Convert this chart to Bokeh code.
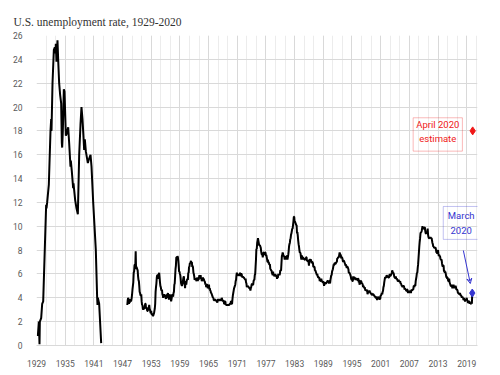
from bokeh.plotting import figure
from bokeh.models import FixedTicker, BoxAnnotation, Label, Arrow, VeeHead
from bokeh.embed import file_html
from bokeh.resources import INLINE

# ---- data ----
early_years = [1929.28, 1929.49, 1929.63, 1929.70, 1929.98, 1930.19, 1930.40, 1931.02, 1931.09,
               1931.23, 1931.58, 1931.93, 1932.07, 1932.14, 1932.35, 1932.63, 1932.83, 1932.97,
               1933.04, 1933.18, 1933.39, 1933.53, 1933.74, 1933.95, 1934.16, 1934.30, 1934.37,
               1934.51, 1934.72, 1934.86, 1935.14, 1935.35, 1935.63, 1935.83, 1936.11, 1936.18,
               1936.39, 1936.67, 1936.74, 1937.09, 1937.37, 1937.65, 1937.93, 1938.20, 1938.41,
               1938.62, 1938.83, 1938.97, 1939.11, 1939.32, 1939.74, 1939.95, 1940.30, 1940.51,
               1940.86, 1941.41, 1941.69, 1941.76, 1941.83, 1942.11, 1942.53]
early_rate = [0.8, 2.0, 0.1, 2.0, 2.3, 3.5, 3.7, 11.8, 11.5,
              12.0, 13.5, 18.0, 19.0, 18.0, 22.0, 24.8, 25.0, 24.5,
              25.3, 23.8, 25.6, 24.0, 22.0, 21.0, 20.3, 17.0, 16.6,
              18.0, 21.5, 21.3, 17.6, 17.8, 18.3, 17.0, 15.0, 15.5,
              14.6, 13.2, 13.6, 12.2, 11.5, 11.0, 16.0, 18.5, 20.0,
              19.0, 17.5, 16.4, 17.3, 16.3, 15.3, 15.6, 16.0, 15.0,
              12.0, 8.0, 4.0, 3.4, 4.0, 3.5, 0.2]

postwar_start = 1948
postwar_rate = [
    3.4, 3.8, 4.0, 3.9, 3.5, 3.6, 3.6, 3.9, 3.8, 3.7, 3.8, 4.0,
    4.3, 4.7, 5.0, 5.3, 6.1, 6.2, 6.7, 6.8, 6.6, 7.9, 6.4, 6.6,
    6.5, 6.4, 6.3, 5.8, 5.5, 5.4, 5.0, 4.5, 4.4, 4.2, 4.2, 4.3,
    3.7, 3.4, 3.4, 3.1, 3.0, 3.2, 3.1, 3.1, 3.3, 3.5, 3.5, 3.1,
    3.2, 3.1, 2.9, 2.9, 3.0, 3.0, 3.2, 3.4, 3.1, 3.0, 2.8, 2.7,
    2.9, 2.6, 2.6, 2.7, 2.5, 2.5, 2.6, 2.7, 2.9, 3.1, 3.5, 4.5,
    4.9, 5.2, 5.7, 5.9, 5.9, 5.6, 5.8, 6.0, 6.1, 5.7, 5.3, 5.0,
    4.9, 4.7, 4.6, 4.7, 4.3, 4.2, 4.0, 4.2, 4.1, 4.3, 4.2, 4.2,
    4.0, 3.9, 4.2, 4.0, 4.3, 4.3, 4.4, 4.1, 3.9, 3.9, 4.3, 4.2,
    4.2, 3.9, 3.7, 3.9, 4.1, 4.3, 4.2, 4.1, 4.4, 4.5, 5.1, 5.2,
    5.8, 6.4, 6.7, 7.4, 7.4, 7.3, 7.5, 7.4, 7.1, 6.7, 6.2, 6.2,
    6.0, 5.9, 5.6, 5.2, 5.1, 5.0, 5.1, 5.2, 5.5, 5.7, 5.8, 5.3,
    5.2, 4.8, 5.4, 5.2, 5.1, 5.4, 5.5, 5.6, 5.5, 6.1, 6.1, 6.6,
    6.6, 6.9, 6.9, 7.0, 7.1, 6.9, 7.0, 6.6, 6.7, 6.5, 6.1, 6.0,
    5.8, 5.5, 5.6, 5.6, 5.5, 5.5, 5.4, 5.7, 5.6, 5.4, 5.7, 5.5,
    5.7, 5.9, 5.7, 5.7, 5.9, 5.6, 5.6, 5.4, 5.5, 5.5, 5.7, 5.5,
    5.6, 5.4, 5.4, 5.3, 5.1, 5.2, 4.9, 5.0, 5.1, 5.1, 4.8, 5.0,
    4.9, 5.1, 4.7, 4.8, 4.6, 4.6, 4.4, 4.4, 4.3, 4.2, 4.1, 4.0,
    4.0, 3.8, 3.8, 3.8, 3.9, 3.8, 3.8, 3.8, 3.7, 3.7, 3.6, 3.8,
    3.9, 3.8, 3.8, 3.8, 3.8, 3.9, 3.8, 3.8, 3.8, 4.0, 3.9, 3.8,
    3.7, 3.8, 3.7, 3.5, 3.5, 3.7, 3.7, 3.5, 3.4, 3.4, 3.4, 3.4,
    3.4, 3.4, 3.4, 3.4, 3.4, 3.5, 3.5, 3.5, 3.7, 3.7, 3.5, 3.5,
    3.9, 4.2, 4.4, 4.6, 4.8, 4.9, 5.0, 5.1, 5.4, 5.5, 5.9, 6.1,
    5.9, 5.9, 6.0, 5.9, 5.9, 5.9, 6.0, 6.1, 6.0, 5.8, 6.0, 6.0,
    5.8, 5.7, 5.8, 5.7, 5.7, 5.7, 5.6, 5.6, 5.5, 5.6, 5.3, 5.2,
    4.9, 5.0, 4.9, 5.0, 4.9, 4.9, 4.8, 4.8, 4.8, 4.6, 4.8, 4.9,
    5.1, 5.2, 5.1, 5.1, 5.1, 5.4, 5.5, 5.5, 5.9, 6.0, 6.6, 7.2,
    8.1, 8.1, 8.6, 8.8, 9.0, 8.8, 8.6, 8.4, 8.4, 8.4, 8.3, 8.2,
    7.9, 7.7, 7.6, 7.7, 7.4, 7.6, 7.8, 7.8, 7.6, 7.7, 7.8, 7.8,
    7.5, 7.6, 7.4, 7.2, 7.0, 7.2, 6.9, 7.0, 6.8, 6.8, 6.8, 6.4,
    6.4, 6.3, 6.3, 6.1, 6.0, 5.9, 6.2, 5.9, 6.0, 5.8, 5.9, 6.0,
    5.9, 5.9, 5.8, 5.8, 5.6, 5.7, 5.7, 6.0, 5.9, 6.0, 5.9, 6.0,
    6.3, 6.3, 6.3, 6.9, 7.5, 7.6, 7.8, 7.7, 7.5, 7.5, 7.5, 7.2,
    7.5, 7.4, 7.4, 7.2, 7.5, 7.5, 7.2, 7.4, 7.6, 7.9, 8.3, 8.5,
    8.6, 8.9, 9.0, 9.3, 9.4, 9.6, 9.8, 9.8, 10.1, 10.4, 10.8, 10.8,
    10.4, 10.4, 10.3, 10.2, 10.1, 10.1, 9.4, 9.5, 9.2, 8.8, 8.5, 8.3,
    8.0, 7.8, 7.8, 7.7, 7.4, 7.2, 7.5, 7.5, 7.3, 7.4, 7.2, 7.3,
    7.3, 7.2, 7.2, 7.3, 7.2, 7.4, 7.4, 7.1, 7.1, 7.1, 7.0, 7.0,
    6.7, 7.2, 7.2, 7.1, 7.2, 7.2, 7.0, 6.9, 7.0, 7.0, 6.9, 6.6,
    6.6, 6.6, 6.6, 6.3, 6.3, 6.2, 6.1, 6.0, 5.9, 6.0, 5.8, 5.7,
    5.7, 5.7, 5.7, 5.4, 5.6, 5.4, 5.4, 5.6, 5.4, 5.4, 5.3, 5.3,
    5.4, 5.2, 5.0, 5.2, 5.2, 5.3, 5.2, 5.2, 5.3, 5.3, 5.4, 5.4,
    5.4, 5.3, 5.2, 5.4, 5.4, 5.2, 5.5, 5.7, 5.9, 5.9, 6.2, 6.3,
    6.4, 6.6, 6.8, 6.7, 6.9, 6.9, 6.8, 6.9, 6.9, 7.0, 7.0, 7.3,
    7.3, 7.4, 7.4, 7.4, 7.6, 7.8, 7.7, 7.6, 7.6, 7.3, 7.4, 7.4,
    7.3, 7.1, 7.0, 7.1, 7.1, 7.0, 6.9, 6.8, 6.7, 6.8, 6.6, 6.5,
    6.6, 6.6, 6.5, 6.4, 6.1, 6.1, 6.1, 6.0, 5.9, 5.8, 5.6, 5.5,
    5.6, 5.4, 5.4, 5.8, 5.6, 5.6, 5.7, 5.7, 5.6, 5.5, 5.6, 5.6,
    5.6, 5.5, 5.5, 5.6, 5.6, 5.3, 5.5, 5.1, 5.2, 5.2, 5.4, 5.4,
    5.3, 5.2, 5.2, 5.1, 4.9, 5.0, 4.9, 4.8, 4.9, 4.7, 4.6, 4.7,
    4.6, 4.6, 4.7, 4.3, 4.4, 4.5, 4.5, 4.5, 4.6, 4.5, 4.4, 4.4,
    4.3, 4.4, 4.2, 4.3, 4.2, 4.3, 4.3, 4.2, 4.2, 4.1, 4.1, 4.0,
    4.0, 4.1, 4.0, 3.8, 4.0, 4.0, 4.0, 4.1, 3.9, 3.9, 3.9, 3.9,
    4.2, 4.2, 4.3, 4.4, 4.3, 4.5, 4.6, 4.9, 5.0, 5.3, 5.5, 5.7,
    5.7, 5.7, 5.7, 5.9, 5.8, 5.8, 5.8, 5.7, 5.7, 5.7, 5.9, 6.0,
    5.8, 5.9, 5.9, 6.0, 6.1, 6.3, 6.2, 6.1, 6.1, 6.0, 5.8, 5.7,
    5.7, 5.6, 5.8, 5.6, 5.6, 5.6, 5.5, 5.4, 5.4, 5.5, 5.4, 5.4,
    5.3, 5.4, 5.2, 5.2, 5.1, 5.0, 5.0, 4.9, 5.0, 5.0, 5.0, 4.9,
    4.7, 4.8, 4.7, 4.7, 4.6, 4.6, 4.7, 4.7, 4.5, 4.4, 4.5, 4.4,
    4.6, 4.5, 4.4, 4.5, 4.4, 4.6, 4.7, 4.6, 4.7, 4.7, 4.7, 5.0,
    5.0, 4.9, 5.1, 5.0, 5.4, 5.6, 5.8, 6.1, 6.1, 6.5, 6.8, 7.3,
    7.8, 8.3, 8.7, 9.0, 9.4, 9.5, 9.5, 9.6, 9.8, 10.0, 9.9, 9.9,
    9.8, 9.8, 9.9, 9.9, 9.6, 9.4, 9.4, 9.5, 9.5, 9.4, 9.8, 9.3,
    9.1, 9.0, 9.0, 9.1, 9.0, 9.1, 9.0, 9.0, 9.0, 8.8, 8.6, 8.5,
    8.3, 8.3, 8.2, 8.2, 8.2, 8.2, 8.2, 8.0, 7.8, 7.8, 7.7, 7.9,
    8.0, 7.7, 7.5, 7.6, 7.5, 7.5, 7.3, 7.2, 7.2, 7.2, 6.9, 6.7,
    6.6, 6.7, 6.7, 6.2, 6.3, 6.1, 6.2, 6.1, 5.9, 5.7, 5.8, 5.6,
    5.7, 5.5, 5.4, 5.4, 5.6, 5.3, 5.2, 5.1, 5.0, 5.0, 5.1, 5.0,
    4.8, 4.9, 5.0, 5.1, 4.8, 4.9, 4.8, 4.9, 5.0, 4.9, 4.7, 4.7,
    4.7, 4.6, 4.4, 4.4, 4.4, 4.3, 4.3, 4.4, 4.3, 4.2, 4.2, 4.1,
    4.0, 4.1, 4.0, 4.0, 3.8, 4.0, 3.8, 3.8, 3.7, 3.8, 3.8, 3.9,
    4.0, 3.8, 3.8, 3.6, 3.6, 3.6, 3.7, 3.7, 3.5, 3.6, 3.5, 3.5,
    3.6, 3.5, 4.4,
]

march_2020 = (2020 + 2 / 12, 4.4)
april_2020_estimate = (2020 + 3 / 12, 18.0)

x_ticks = list(range(1929, 2020, 6))
x_minor = list(range(1929, 2022, 2))
y_ticks = list(range(0, 27, 2))

postwar_years = [postwar_start + i / 12 for i in range(len(postwar_rate))]

# ---- figure ----
p = figure(width=492, height=370, output_backend="svg", toolbar_location=None,
           x_range=(1929, 2021.26), y_range=(0, 26),
           min_border_left=36, min_border_right=15, min_border_top=35, min_border_bottom=25)
p.background_fill_color = "white"
p.border_fill_color = "white"
p.outline_line_color = None

p.title.text = "U.S. unemployment rate, 1929-2020"
p.title.text_font = "Liberation Serif"
p.title.text_font_size = "11.5px"
p.title.text_font_style = "normal"
p.title.text_color = "#333333"
p.title.align = "left"
p.title.offset = -23
p.title.standoff = 16

grid_col = "#d9d9d9"
p.xaxis.ticker = FixedTicker(ticks=x_ticks, minor_ticks=x_minor)
p.yaxis.ticker = FixedTicker(ticks=y_ticks)
p.xgrid.grid_line_color = grid_col
p.xgrid.minor_grid_line_color = "#ececec"
p.ygrid.grid_line_color = grid_col
for ax in (p.xaxis, p.yaxis):
    ax.major_tick_line_color = None
    ax.minor_tick_line_color = None
    ax.major_label_text_font = "Roboto"
    ax.major_label_text_font_size = "8.5px"
    ax.major_label_text_color = "#595959"
p.xaxis.axis_line_color = grid_col
p.yaxis.axis_line_color = None
p.xaxis.major_label_standoff = 8
p.yaxis.major_label_standoff = 8

p.line(early_years, early_rate, line_color="black", line_width=2)
p.line(postwar_years, postwar_rate, line_color="black", line_width=2)

red = "#f01818"
blue = "#3535d0"
p.scatter([april_2020_estimate[0]], [april_2020_estimate[1]], marker="diamond",
          size=8, color=red)
p.scatter([march_2020[0]], [march_2020[1]], marker="diamond", size=8, color=blue)

# annotation boxes
p.add_layout(BoxAnnotation(left=2007.8, right=2018.1, bottom=16.3, top=19.1,
                           fill_alpha=0, line_color=red, line_width=1))
p.add_layout(Label(x=2012.95, y=17.95, text="April 2020\nestimate", text_align="center",
                   text_baseline="middle", text_font="Roboto", text_font_size="9.5px",
                   text_color=red, text_line_height=1.3))
p.add_layout(BoxAnnotation(left=2014.1, right=2021.6, bottom=8.9, top=11.66,
                           fill_alpha=0, line_color=blue, line_width=1))
p.add_layout(Label(x=2017.85, y=10.28, text="March\n2020", text_align="center",
                   text_baseline="middle", text_font="Roboto", text_font_size="9.5px",
                   text_color=blue, text_line_height=1.3))
p.add_layout(Arrow(end=VeeHead(size=5, line_color=blue, line_width=1, fill_color=None),
                   x_start=2018.3, y_start=7.97, x_end=2019.76, y_end=5.2,
                   line_color=blue, line_width=1))

open("out.html", "w").write(file_html(p, INLINE))
